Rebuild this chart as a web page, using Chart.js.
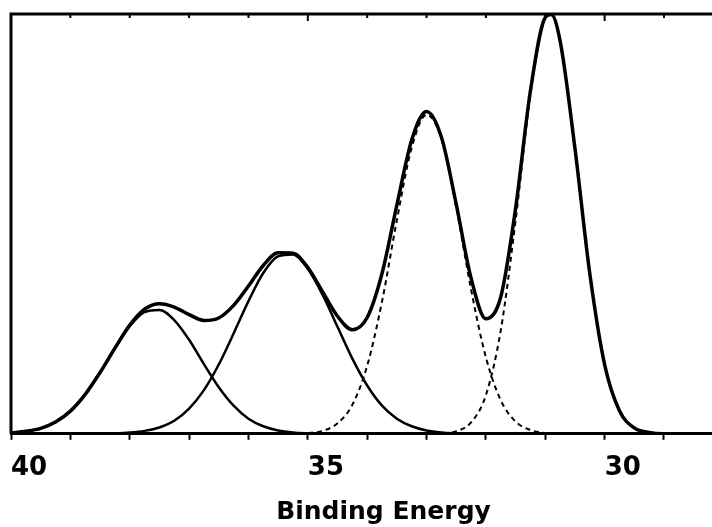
<!DOCTYPE html>
<html>
<head>
<meta charset="utf-8">
<script src="https://cdn.jsdelivr.net/npm/chart.js@4.4.1/dist/chart.umd.min.js"></script>
<style>
  html, body { margin: 0; padding: 0; background: #fff; }
  #wrap { width: 712px; height: 527px; overflow: hidden; }
</style>
</head>
<body>
<div id="wrap"><canvas id="xps" width="756" height="527"></canvas></div>
<script>
// binding energy (eV), high to low
const energy = [40, 39.75, 39.5, 39.25, 39, 38.75, 38.5, 38.25, 38, 37.75,
  37.5, 37.25, 37, 36.75, 36.5, 36.25, 36, 35.75, 35.5, 35.25,
  35, 34.75, 34.5, 34.25, 34, 33.75, 33.5, 33.25, 33, 32.75,
  32.5, 32.25, 32, 31.75, 31.5, 31.25, 31, 30.9, 30.75, 30.5, 30.25,
  30, 29.75, 29.5, 29.25, 29, 28.75, 28.5, 28.25, 28, 27.5];

// measured envelope
const envelope = [0.2, 0.6, 1.3, 2.8, 5.4, 9.4, 14.6, 20.4, 25.9, 29.7,
  31.0, 30.2, 28.4, 27.0, 27.6, 30.6, 35.2, 40.1, 43.1, 43.0,
  39.6, 33.8, 28.0, 24.8, 27.7, 38.2, 54.5, 70.0, 76.8, 70.7,
  54.7, 37.1, 27.4, 32.6, 53.7, 81.7, 99.2, 99.9, 93.6, 68.0, 38.2,
  16.5, 5.5, 1.4, 0.3, 0, 0, 0, 0, 0, 0];

// fitted components
const peak1 = [0.2, 0.6, 1.3, 2.8, 5.4, 9.4, 14.6, 20.3, 25.6, 29.0,
  29.5, 27.1, 22.4, 16.6, 11.1, 6.7, 3.6, 1.8, 0.8, 0.3,
  0.1, 0, 0, 0, 0, 0, 0, 0, 0, 0,
  0, 0, 0, 0, 0, 0, 0, 0, 0, 0, 0,
  0, 0, 0, 0, 0, 0, 0, 0, 0, 0];
const peak2 = [0, 0, 0, 0, 0, 0, 0, 0.1, 0.3, 0.7,
  1.5, 3.1, 6.0, 10.4, 16.5, 23.9, 31.6, 38.3, 42.3, 42.7,
  39.3, 33.1, 25.5, 17.9, 11.5, 6.7, 3.6, 1.8, 0.8, 0.3,
  0.1, 0, 0, 0, 0, 0, 0, 0, 0, 0, 0,
  0, 0, 0, 0, 0, 0, 0, 0, 0, 0];
const peak3 = [0, 0, 0, 0, 0, 0, 0, 0, 0, 0,
  0, 0, 0, 0, 0, 0, 0, 0, 0, 0,
  0.2, 0.7, 2.5, 6.9, 16.2, 31.5, 50.9, 68.2, 76.0, 70.3,
  54.0, 34.4, 18.2, 8.0, 2.9, 0.9, 0.2, 0.1, 0.1, 0, 0,
  0, 0, 0, 0, 0, 0, 0, 0, 0, 0];
const peak4 = [0, 0, 0, 0, 0, 0, 0, 0, 0, 0,
  0, 0, 0, 0, 0, 0, 0, 0, 0, 0,
  0, 0, 0, 0, 0, 0, 0, 0, 0, 0.1,
  0.6, 2.7, 9.2, 24.6, 50.8, 80.8, 99.0, 99.8, 93.5, 68.0, 38.2,
  16.5, 5.5, 1.4, 0.3, 0, 0, 0, 0, 0, 0];

const tickValues = [40, 39, 38, 37, 36, 35, 34, 33, 32, 31, 30, 29, 28];
const tickLabels = ['40', '35', '30'];

const toPoints = ys => energy.map((e, i) => ({ x: e, y: ys[i] }));

function curve(ys, width, dash, order) {
    return {
        data: toPoints(ys),
        borderColor: '#000',
        borderWidth: width,
        borderDash: dash,
        pointRadius: 0,
        cubicInterpolationMode: 'monotone',
        fill: false,
        order: order
    };
}

// left and top edges of the frame, with inward ticks on top
const frame = {
    id: 'frame',
    afterDatasetsDraw(chart) {
        const { ctx, chartArea: a, scales: { x } } = chart;
        ctx.save();
        ctx.strokeStyle = '#000';
        ctx.lineWidth = 3;
        ctx.beginPath();
        ctx.moveTo(a.left, a.bottom);
        ctx.lineTo(a.left, a.top);
        ctx.lineTo(a.right, a.top);
        ctx.stroke();
        ctx.lineWidth = 2;
        tickValues.forEach(v => {
            const px = x.getPixelForValue(v);
            const len = v % 5 === 0 ? 7 : 4;
            ctx.beginPath();
            ctx.moveTo(px, a.top);
            ctx.lineTo(px, a.top + len);
            ctx.stroke();
        });
        ctx.restore();
    }
};

const ctx = document.getElementById('xps').getContext('2d');
const chart = new Chart(ctx, {
    type: 'line',
    data: {
        datasets: [
            curve(envelope, 3.5, [], 0),
            curve(peak1, 2.5, [], 1),
            curve(peak2, 2.5, [], 1),
            curve(peak3, 2, [5, 4], 1),
            curve(peak4, 2, [5, 4], 1)
        ]
    },
    options: {
        responsive: false,
        animation: false,
        devicePixelRatio: 1,
        layout: { padding: { left: 11, top: 14, right: 0, bottom: 0 } },
        plugins: {
            legend: { display: false },
            tooltip: { enabled: false }
        },
        scales: {
            x: {
                type: 'linear',
                reverse: true,
                min: 27.45,
                max: 40,
                afterBuildTicks: s => { s.ticks = tickValues.map(v => ({ value: v })); },
                // labels hang right of their ticks, no side padding needed
                afterFit: s => { s.paddingLeft = 0; s.paddingRight = 0; },
                grid: { drawOnChartArea: false, tickLength: 6, tickWidth: 2, tickColor: '#000' },
                border: { color: '#000', width: 3 },
                ticks: {
                    align: 'start',
                    maxRotation: 0,
                    autoSkip: false,
                    padding: 13,
                    color: '#000',
                    font: { family: 'DejaVu Sans', weight: 'bold', size: 26 },
                    callback: v => tickLabels.includes(String(v)) ? String(v) : ''
                },
                title: {
                    display: true,
                    text: 'Binding Energy',
                    color: '#000',
                    font: { family: 'DejaVu Sans', weight: 'bold', size: 25 },
                    padding: { top: 0, bottom: 0 }
                }
            },
            y: {
                display: false,
                min: 0,
                max: 100
            }
        }
    },
    plugins: [frame]
});
</script>
</body>
</html>
